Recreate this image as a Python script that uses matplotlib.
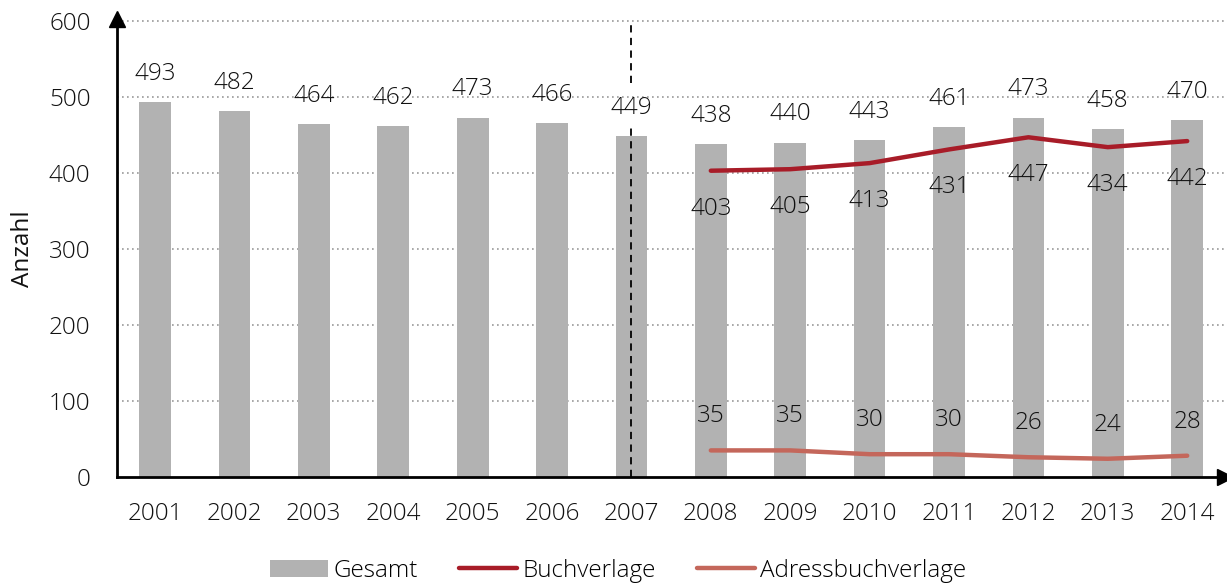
import matplotlib
matplotlib.use("Agg")
import matplotlib.pyplot as plt
import numpy as np

plt.rcParams['font.family'] = ['Open Sans', 'DejaVu Sans']
plt.rcParams['font.weight'] = 'light'

years = ['2001','2002','2003','2004','2005','2006','2007','2008','2009','2010','2011','2012','2013','2014']
gesamt = [493, 482, 464, 462, 473, 466, 449, 438, 440, 443, 461, 473, 458, 470]
buch_years = ['2008','2009','2010','2011','2012','2013','2014']
buchverlage = [403, 405, 413, 431, 447, 434, 442]
adressbuch = [35, 35, 30, 30, 26, 24, 28]

c_bar = '#b2b2b2'
c_buch = '#a81c28'
c_adr = '#c4675b'
txt = '#111111'
fs = 17.5

fig = plt.figure(figsize=(12.27, 5.86), dpi=100)
W, H = 1227, 586
ax = fig.add_axes([117/W, 1-477/H, (1225-117)/W, (477-21)/H])

x = np.arange(len(years))
xb = np.array([years.index(y) for y in buch_years])

for v in range(100, 601, 100):
    ax.plot([-0.479, 13.476 + 0.03], [v, v], color='#999999', lw=1.2, ls=(0, (1, 2)), zorder=0, clip_on=False)

hb = ax.bar(x, gesamt, width=0.4, color=c_bar, zorder=1, label='Gesamt')
h1, = ax.plot(xb, buchverlage, color=c_buch, lw=3.2, solid_capstyle='round', zorder=3, label='Buchverlage')
h2, = ax.plot(xb, adressbuch, color=c_adr, lw=3.2, solid_capstyle='round', zorder=3, label='Adressbuchverlage')

# dashed separator, interrupted by the 2007 label
ax.plot([6, 6], [0, 463], color='black', lw=1.3, ls=(0, (4, 3)), zorder=2)
ax.plot([6, 6], [519, 597], color='black', lw=1.3, ls=(0, (4, 3)), zorder=2, clip_on=False)

for xi, v in zip(x, gesamt):
    ax.text(xi, v + 37, str(v), ha='center', va='center', fontsize=fs, color=txt, zorder=4)
for xi, v in zip(xb, buchverlage):
    ax.text(xi, v - 50, str(v), ha='center', va='center', fontsize=fs, color=txt, zorder=4)
for xi, v in zip(xb, adressbuch):
    ax.text(xi, v + 45, str(v), ha='center', va='center', fontsize=fs, color=txt, zorder=4)

ax.set_xlim(-0.479, 13.476)
ax.set_ylim(0, 600)
ax.set_xticks(x)
ax.set_xticklabels(years)
ax.set_yticks(range(0, 601, 100))
ax.tick_params(axis='both', length=0, labelsize=fs, colors=txt)
ax.tick_params(axis='x', pad=18)
ax.tick_params(axis='y', pad=19)
for s in ['top', 'right']:
    ax.spines[s].set_visible(False)
for s in ['left', 'bottom']:
    ax.spines[s].set_linewidth(2)
    ax.spines[s].set_color('black')
ax.plot(0, 1.005, marker='^', color='black', markersize=11, transform=ax.transAxes, clip_on=False)
ax.plot(1.0, 0, marker='>', color='black', markersize=11, transform=ax.transAxes, clip_on=False)
ax.set_ylabel('Anzahl', fontsize=fs, color=txt)
ax.yaxis.set_label_coords((35-117)/(1225-117), 0.5)

ax.legend([hb, h1, h2], ['Gesamt', 'Buchverlage', 'Adressbuchverlage'],
          loc='center', bbox_to_anchor=((618-117)/(1225-117), (477-571)/(477-21)), ncol=3, frameon=False,
          fontsize=fs, handlelength=2.4, handletextpad=0.2, columnspacing=1.7)

fig.savefig('out.png', dpi=100)
